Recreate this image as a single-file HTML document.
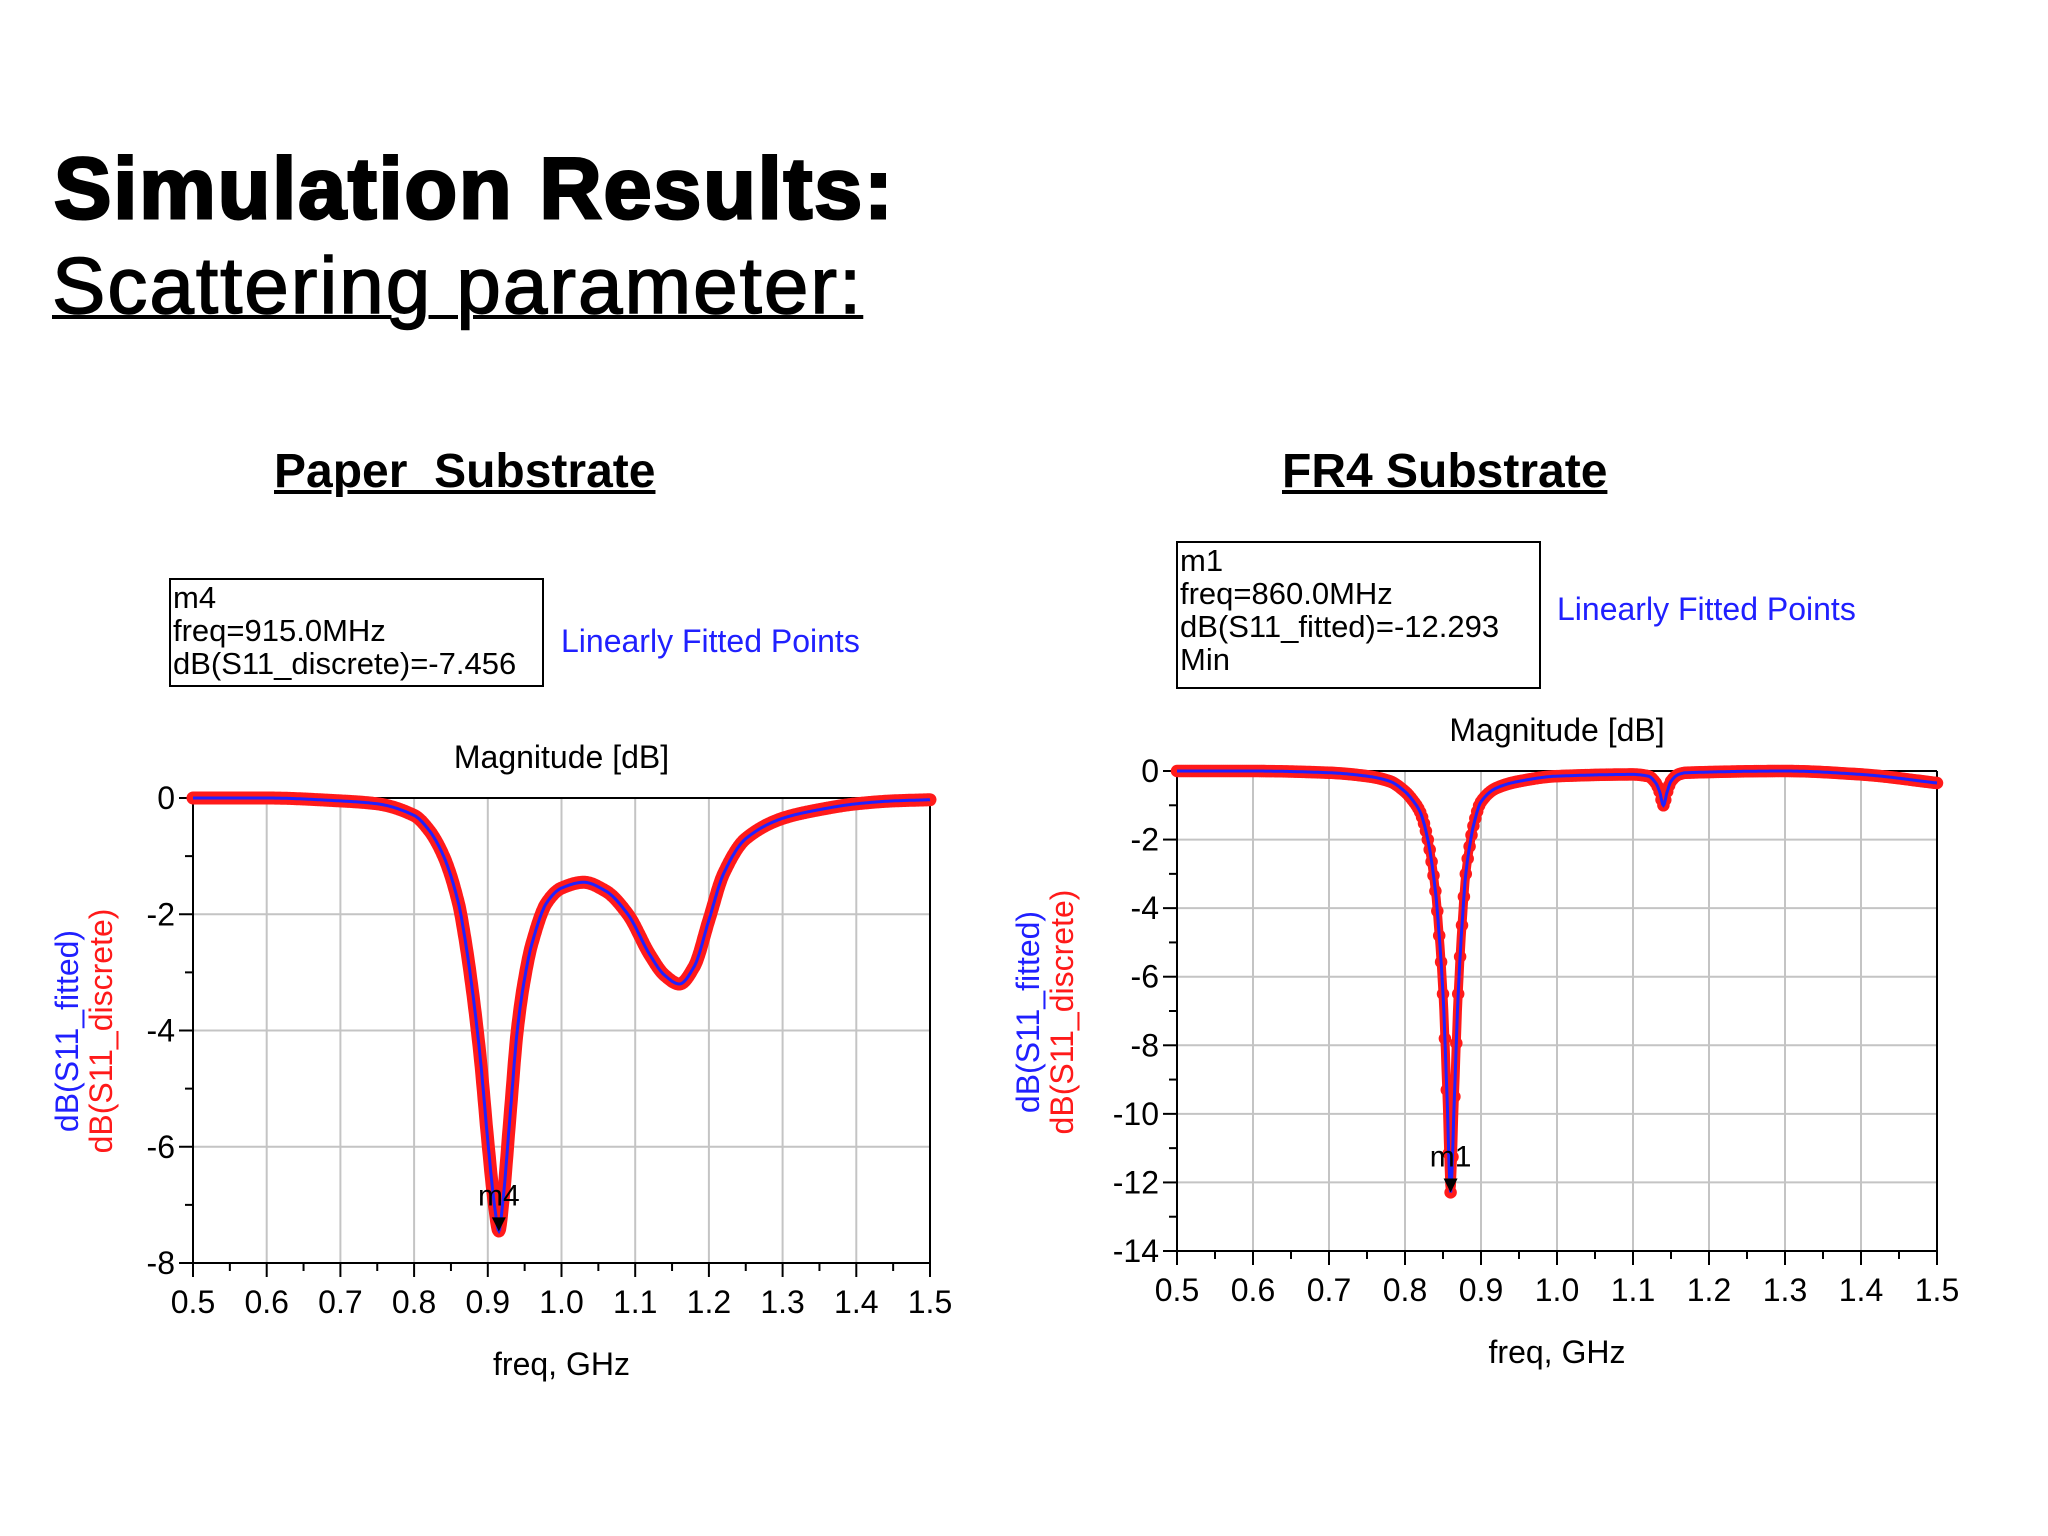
<!DOCTYPE html>
<html><head><meta charset="utf-8"><style>
body{margin:0;background:#fff;}
#wrap{position:relative;width:2048px;height:1536px;overflow:hidden;background:#fff;font-family:"Liberation Sans",sans-serif;}
.t{position:absolute;white-space:nowrap;}
</style></head><body>
<div id="wrap">
<div class="t" style="left:54px;top:140px;font-size:86px;font-weight:900;letter-spacing:2px;-webkit-text-stroke:3px #000;">Simulation Results:</div>
<div class="t" style="left:52px;top:240px;font-size:80px;letter-spacing:2px;-webkit-text-stroke:1.5px #000;text-decoration:underline;text-decoration-thickness:4px;">Scattering parameter:</div>
<div class="t" style="left:274px;top:444px;font-size:48px;font-weight:bold;text-decoration:underline;">Paper&nbsp; Substrate</div>
<div class="t" style="left:1282px;top:444px;font-size:48px;font-weight:bold;text-decoration:underline;">FR4 Substrate</div>
<svg id="svg" width="2048" height="1536" style="position:absolute;left:0;top:0"></svg>
</div>
<script>
const paperFreq=[0.5,0.6,0.7,0.75,0.8,0.82,0.84,0.86,0.87,0.88,0.89,0.9,0.91,0.915,0.92,0.93,0.94,0.95,0.96,0.98,1.0,1.03,1.06,1.09,1.12,1.14,1.16,1.18,1.2,1.22,1.25,1.3,1.35,1.4,1.45,1.5];
const paperDb=[0,0,-0.05,-0.1,-0.3,-0.55,-1.0,-1.8,-2.5,-3.4,-4.5,-5.9,-7.1,-7.45,-7.0,-5.5,-4.0,-3.1,-2.5,-1.8,-1.55,-1.45,-1.6,-2.0,-2.7,-3.05,-3.2,-2.9,-2.1,-1.3,-0.7,-0.35,-0.2,-0.1,-0.05,-0.03];
const fr4Freq=[0.5,0.6,0.7,0.75,0.78,0.8,0.81,0.82,0.83,0.84,0.845,0.85,0.855,0.86,0.865,0.87,0.875,0.88,0.885,0.89,0.9,0.92,0.95,1.0,1.1,1.12,1.13,1.135,1.14,1.145,1.15,1.16,1.17,1.3,1.4,1.5];
const fr4Db=[0,0,-0.05,-0.15,-0.3,-0.6,-0.85,-1.2,-2,-3.5,-4.8,-6.5,-9.3,-12.29,-9.5,-6.5,-4.5,-3,-2.2,-1.6,-0.9,-0.5,-0.3,-0.15,-0.1,-0.15,-0.35,-0.6,-1.0,-0.6,-0.3,-0.1,-0.05,0,-0.1,-0.35];
const xTicks=["0.5","0.6","0.7","0.8","0.9","1.0","1.1","1.2","1.3","1.4","1.5"];
const paperYTicks=[0,-2,-4,-6,-8];
const fr4YTicks=[0,-2,-4,-6,-8,-10,-12,-14];
const NS="http://www.w3.org/2000/svg";
const svg=document.getElementById('svg');
function mk(t,a,p){const e=document.createElementNS(NS,t);for(const k in a)e.setAttribute(k,a[k]);(p||svg).appendChild(e);return e;}
function interp(fx,fy,x){const n=fx.length;for(let i=0;i<n-1;i++){if(x>=fx[i]&&x<=fx[i+1]){
 const h=fx[i+1]-fx[i],t=(x-fx[i])/h;
 const m=j=>{if(j<=0)return (fy[1]-fy[0])/(fx[1]-fx[0]);if(j>=n-1)return (fy[n-1]-fy[n-2])/(fx[n-1]-fx[n-2]);
  const d1=(fy[j]-fy[j-1])/(fx[j]-fx[j-1]),d2=(fy[j+1]-fy[j])/(fx[j+1]-fx[j]);if(d1*d2<=0)return 0;return 2/(1/d1+1/d2);};
 const m0=m(i)*h,m1=m(i+1)*h,t2=t*t,t3=t2*t;
 return (2*t3-3*t2+1)*fy[i]+(t3-2*t2+t)*m0+(-2*t3+3*t2)*fy[i+1]+(t3-t2)*m1;}}return fy[n-1];}
function chart(o){
 const g=mk('g',{});
 
 
 const X=v=>o.L+(v-0.5)/(1.0)*(o.R-o.L);
 const Y=v=>o.T+(0-v)/(0-o.ymin)*(o.B-o.T);
 xTicks.forEach(s=>{const v=+s;const x=X(v);
  mk('line',{x1:x,x2:x,y1:o.T,y2:o.B,stroke:'#c4c4c4','stroke-width':2},g);
  mk('line',{x1:x,x2:x,y1:o.B,y2:o.B+14,stroke:'#000','stroke-width':2},g);
  const m=X(v+0.05); if(v<1.5) mk('line',{x1:m,x2:m,y1:o.B,y2:o.B+8,stroke:'#000','stroke-width':2},g);
  const t=mk('text',{x:x,y:o.B+50,'font-size':32,'text-anchor':'middle',fill:'#000'},g);t.textContent=s;
  });
 o.yt.forEach(v=>{const y=Y(v);
  mk('line',{x1:o.L,x2:o.R,y1:y,y2:y,stroke:'#c4c4c4','stroke-width':2},g);
  mk('line',{x1:o.L-14,x2:o.L,y1:y,y2:y,stroke:'#000','stroke-width':2},g);
  if(v>o.ymin){const ym=Y(v-1);mk('line',{x1:o.L-8,x2:o.L,y1:ym,y2:ym,stroke:'#000','stroke-width':2},g);}
  const t=mk('text',{x:o.L-18,y:y+11,'font-size':32,'text-anchor':'end',fill:'#000'},g);t.textContent=v;
  });
 mk('line',{x1:o.L,x2:o.R,y1:o.T,y2:o.T,stroke:'#000','stroke-width':2},g);
 mk('line',{x1:o.L,x2:o.R,y1:o.B,y2:o.B,stroke:'#000','stroke-width':2},g);
 mk('line',{x1:o.L,x2:o.L,y1:o.T,y2:o.B,stroke:'#000','stroke-width':2},g);
 mk('line',{x1:o.R,x2:o.R,y1:o.T,y2:o.B,stroke:'#000','stroke-width':2},g);
 const pts=[];for(let f=0.5;f<=1.5001;f+=0.001){pts.push([X(f),Y(interp(o.fx,o.fy,f))]);}
 const d=pts.map((p,i)=>(i?'L':'M')+p[0].toFixed(1)+','+p[1].toFixed(1)).join('');
 const red=mk('path',{d:d,fill:'none',stroke:'#ff1a1a','stroke-width':o.redW,'stroke-linejoin':'round','stroke-linecap':'round'},g);
 
 if(o.circles){for(let f=0.5;f<=1.5001;f+=0.0025){const c=mk('circle',{cx:X(f),cy:Y(interp(o.fx,o.fy,f)),r:5,fill:'none',stroke:'#ff1a1a','stroke-width':2.5},g);
  }}
 const blue=mk('path',{d:d,fill:'none',stroke:'#2020ff','stroke-width':3},g);
 
 const mx=X(o.mf),my=Y(o.mv);
 mk('path',{d:`M${mx-7},${my-14}L${mx+7},${my-14}L${mx},${my}Z`,fill:'#000'},g);
 const mt=mk('text',{x:mx,y:my-26,'font-size':30,'text-anchor':'middle',fill:'#000'},g);mt.textContent=o.mname;
 
 let t=mk('text',{x:(o.L+o.R)/2,y:o.T-30,'font-size':32,'text-anchor':'middle'},g);t.textContent='Magnitude [dB]';
 
 t=mk('text',{x:(o.L+o.R)/2,y:o.B+112,'font-size':32,'text-anchor':'middle'},g);t.textContent='freq, GHz';
 
 t=mk('text',{x:o.yx,y:o.yc,'font-size':32,'text-anchor':'middle',fill:'#2020ff',transform:`rotate(-90 ${o.yx} ${o.yc})`},g);t.textContent='dB(S11_fitted)';
 
 t=mk('text',{x:o.yx+34,y:o.yc,'font-size':32,'text-anchor':'middle',fill:'#ff1a1a',transform:`rotate(-90 ${o.yx+34} ${o.yc})`},g);t.textContent='dB(S11_discrete)';
 
 const b=o.box;
 mk('rect',{x:b[0],y:b[1],width:b[2],height:b[3],fill:'#fff',stroke:'#000','stroke-width':2},g);
 o.lines.forEach((s,i)=>{const tt=mk('text',{x:b[0]+3,y:b[1]+29+i*33,'font-size':31,fill:'#000'},g);tt.textContent=s;
  });
 t=mk('text',{x:o.lfx,y:o.lfy,'font-size':32,fill:'#2020ff'},g);t.textContent='Linearly Fitted Points';
 
}
chart({name:'paper-chart',L:193,R:930,T:798,B:1263,ymin:-8,yt:paperYTicks,fx:paperFreq,fy:paperDb,redW:13,circles:false,
 mf:0.915,mv:-7.456,mname:'m4',yx:78,yc:1031,box:[170,579,373,107],lines:['m4','freq=915.0MHz','dB(S11_discrete)=-7.456'],lfx:561,lfy:652});
chart({name:'fr4-chart',L:1177,R:1937,T:771,B:1251,ymin:-14,yt:fr4YTicks,fx:fr4Freq,fy:fr4Db,redW:9,circles:true,
 mf:0.86,mv:-12.293,mname:'m1',yx:1039,yc:1012,box:[1177,542,363,146],lines:['m1','freq=860.0MHz','dB(S11_fitted)=-12.293','Min'],lfx:1557,lfy:620});
</script>
</body></html>
